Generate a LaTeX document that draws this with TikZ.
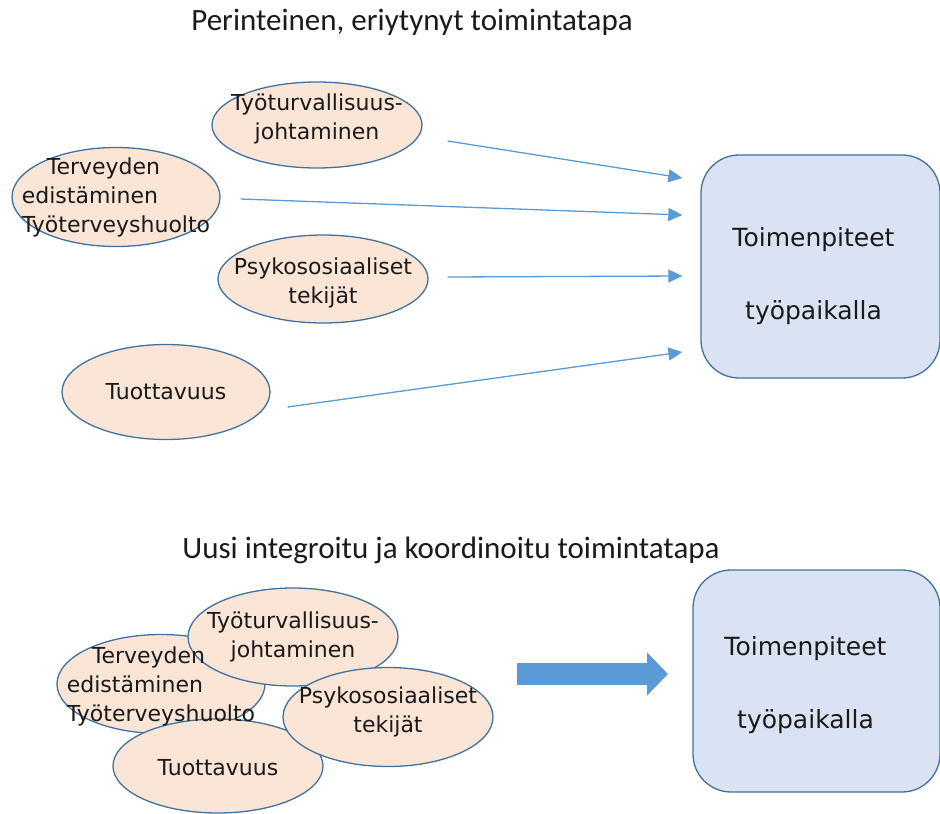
\documentclass[tikz,border=0pt]{standalone}
\usepackage{fontspec}
\setmainfont{DejaVu Sans}
\newfontfamily\titlefont{Carlito}
\usetikzlibrary{shapes.geometric, arrows.meta, positioning}

\definecolor{blobfill}{HTML}{FBE5D6}
\definecolor{blobline}{HTML}{41719C}
\definecolor{boxfill}{HTML}{DAE3F3}
\definecolor{flowblue}{HTML}{5B9BD5}
\definecolor{inktext}{HTML}{1A1A1A}

\tikzset{
  blob/.style={ellipse, draw=blobline, fill=blobfill, line width=1.3pt,
    minimum width=210pt, minimum height=90pt, inner sep=0pt},
  blobtext/.style={font=\fontsize{22}{29}\selectfont, text=inktext, align=center, inner sep=0pt},
  actionbox/.style={rectangle, rounded corners=38pt, draw=blobline, fill=boxfill,
    line width=1.3pt, inner sep=0pt},
  boxtext/.style={font=\fontsize{25}{73}\selectfont, text=inktext, align=center, inner sep=0pt},
  heading/.style={font=\titlefont\fontsize{31}{36}\selectfont, text=inktext, inner sep=0pt},
  flow/.style={draw=flowblue, line width=1.3pt, -{Triangle[width=13pt,length=14pt]}, fill=flowblue},
  bigflow/.style={draw=flowblue, line width=22pt, -{Triangle[width=42pt,length=21pt]}}
}

\begin{document}
\begin{tikzpicture}[x=1pt, y=-1pt]
\useasboundingbox (0,0) rectangle (940,814);

% upper half: separate paths
\node[heading] (title1) at (412,22) {Perinteinen, eriytynyt toimintatapa};

\node[blob, minimum width=210pt, minimum height=86pt] (tyot1) at (317,125) {};
\node[blob, minimum width=208pt, minimum height=99pt] (terv1) at (116,197) {};
\node[blob, minimum width=210pt, minimum height=88pt] (psyk1) at (323,279) {};
\node[blob, minimum width=208pt, minimum height=95pt] (tuot1) at (166,392) {};

\node[blobtext] (tyot1-t) at ([yshift=6pt]tyot1) {Työturvallisuus-\\johtaminen};
\node[blobtext, align=left] (terv1-t) at (terv1) {\hspace*{25pt}Terveyden\\edistäminen\\Työterveyshuolto};
\node[blobtext] (psyk1-t) at ([yshift=-4pt]psyk1) {Psykososiaaliset\\tekijät};
\node[blobtext] (tuot1-t) at (tuot1) {Tuottavuus};

\node[actionbox, minimum width=239pt, minimum height=223pt] (box1) at (820.5,266.5) {};
\node[boxtext] (box1-t) at ([shift={(-7,10)}]box1) {Toimenpiteet\\työpaikalla};

\draw[flow] ([shift={(25,16)}]tyot1.east) -- ([shift={(-18,-88.5)}]box1.west);
\draw[flow] ([shift={(20,2)}]terv1.east) -- ([shift={(-18,-51.5)}]box1.west);
\draw[flow] ([shift={(19,-2)}]psyk1.east) -- ([shift={(-18,9.5)}]box1.west);
\draw[flow] ([shift={(17,15)}]tuot1.east) -- ([shift={(-18,85.5)}]box1.west);

% lower half: overlapping
\node[heading] (title2) at (451,550) {Uusi integroitu ja koordinoitu toimintatapa};

\node[blob, minimum width=208pt, minimum height=99pt] (terv2) at (161,684) {};
\node[blob, minimum width=210pt, minimum height=98pt] (tyot2) at (293,637) {};
\node[blob, minimum width=210pt, minimum height=94pt] (tuot2) at (218,766) {};
\node[blob, minimum width=210pt, minimum height=99pt] (psyk2) at (388,717) {};

\node[blobtext] (tyot2-t) at (tyot2) {Työturvallisuus-\\johtaminen};
\node[blobtext, align=left] (terv2-t) at ([yshift=-2pt]terv2) {\hspace*{25pt}Terveyden\\edistäminen\\Työterveyshuolto};
\node[blobtext] (psyk2-t) at ([yshift=5pt]psyk2) {Psykososiaaliset\\tekijät};
\node[blobtext] (tuot2-t) at ([yshift=-2pt]tuot2) {Tuottavuus};

\node[actionbox, minimum width=247pt, minimum height=222pt] (box2) at (816.5,681) {};
\node[boxtext] (box2-t) at ([shift={(-11,4)}]box2) {Toimenpiteet\\työpaikalla};

\coordinate (bigfrom) at (517,674);
\coordinate (bigto) at (668,674);
\draw[bigflow] (bigfrom) -- (bigto);
\end{tikzpicture}
\end{document}
